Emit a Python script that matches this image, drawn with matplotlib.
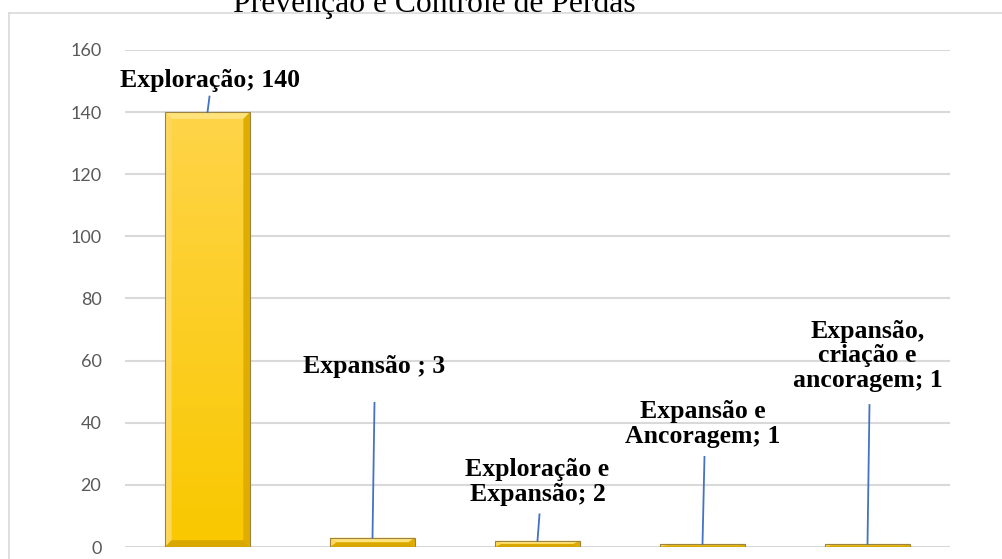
import numpy as np
import matplotlib
matplotlib.use('Agg')
import matplotlib.pyplot as plt
from matplotlib.patches import Rectangle, Polygon
from matplotlib.lines import Line2D

# dados do grafico
categorias = ['Exploração', 'Expansão ', 'Exploração e\nExpansão', 'Expansão e\nAncoragem',
              'Expansão,\ncriação e\nancoragem']
valores = [140, 3, 2, 1, 1]
titulo = 'Prevenção e Controle de Perdas'

# posicao dos rotulos (centro, em unidades de dados) e topo das linhas guia
rot_y = [150.3, 58.0, 21.0, 39.6, 61.5]
rot_dx = [0.015, 0.01, 0.0, 0.0, 0.0]
guia_topo = [145.0, 46.4, 10.5, 29.0, 45.7]

fig = plt.figure(figsize=(10.02, 5.59), dpi=100)
ax = fig.add_axes([125 / 1002, 12 / 559, 825 / 1002, 497 / 559])

ax.set_xlim(-0.5, 4.5)
ax.set_ylim(0, 160)
ax.set_yticks(np.arange(0, 161, 20))
ax.set_xticks([])
ax.yaxis.grid(True, color='#d9d9d9', lw=1.5)
ax.set_axisbelow(True)
for s in ax.spines.values():
    s.set_visible(False)
ax.tick_params(axis='y', length=0, pad=17, labelsize=13, labelcolor='#595959')
for lab in ax.get_yticklabels():
    lab.set_family('Lato')

larg = 0.515
grad = np.linspace(0, 1, 100).reshape(-1, 1)
cmap = matplotlib.colors.LinearSegmentedColormap.from_list('ouro', ['#f9c800', '#ffd448'])

for i, v in enumerate(valores):
    x0 = i - larg / 2
    ret = Rectangle((x0, 0), larg, v, facecolor='#ffcc00', edgecolor='none', zorder=2)
    ax.add_patch(ret)
    img = ax.imshow(grad, extent=(x0, x0 + larg, 0, v), origin='lower', cmap=cmap,
                    aspect='auto', zorder=2.1)
    img.set_clip_path(ret)
    # chanfro
    bx = 0.04
    by = min(2.2, v / 2)
    x1 = x0 + larg
    ax.add_patch(Polygon([(x0, v), (x1, v), (x1 - bx, v - by), (x0 + bx, v - by)],
                         facecolor='#ffe37a', edgecolor='none', zorder=2.2))
    ax.add_patch(Polygon([(x0, 0), (x0, v), (x0 + bx, v - by), (x0 + bx, by)],
                         facecolor='#ffd75a', edgecolor='none', zorder=2.2))
    ax.add_patch(Polygon([(x1, 0), (x1, v), (x1 - bx, v - by), (x1 - bx, by)],
                         facecolor='#dfad00', edgecolor='none', zorder=2.2))
    ax.add_patch(Polygon([(x0, 0), (x1, 0), (x1 - bx, by), (x0 + bx, by)],
                         facecolor='#d8a800', edgecolor='none', zorder=2.2))
    ax.add_patch(Rectangle((x0, 0), larg, v, facecolor='none', edgecolor='#9c8440',
                           lw=0.8, zorder=2.3))

    # linha guia e rotulo
    ax.plot([i, i + 0.012], [v, guia_topo[i]], color='#4472c4', lw=1.3, zorder=3)
    ax.text(i + rot_dx[i], rot_y[i], f'{categorias[i]}; {v}', ha='center', va='center',
            fontsize=18.5, fontweight='bold', family='Liberation Serif', linespacing=1.1,
            zorder=4)

# moldura do grafico
fig.add_artist(Line2D([9 / 1002, 9 / 1002], [0, 1 - 13 / 559], transform=fig.transFigure,
                      color='#d9d9d9', lw=1.2))
fig.add_artist(Line2D([9 / 1002, 1], [1 - 13 / 559, 1 - 13 / 559], transform=fig.transFigure,
                      color='#d9d9d9', lw=1.2))

fig.text(434 / 1002, 1 - 12 / 559, titulo, ha='center', va='baseline', fontsize=22.8,
         family='Liberation Serif')

fig.savefig('out.png', dpi=100)
